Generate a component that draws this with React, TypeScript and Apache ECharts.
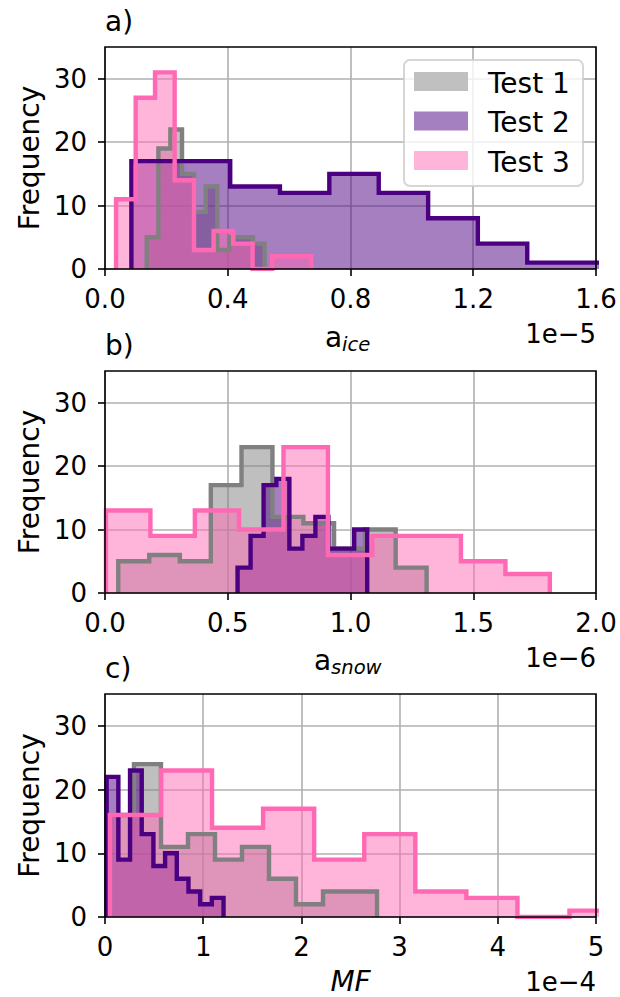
import React, { useEffect, useRef } from "react";
import * as echarts from "echarts";

const TEST_NAMES = ["Test 1", "Test 2", "Test 3"];
const EDGE_COLORS = ["#808080", "#4b0082", "#ff69b4"];
const FILL_COLORS = ["#c0c0c0", "#a580c1", "#ffb4da"];

// Panel a) a_ice, x in units of 1e-5
const iceEdges1 = [0.136, 0.174, 0.213, 0.251, 0.29, 0.328, 0.366, 0.405, 0.443, 0.482, 0.52];
const iceCounts1 = [5, 19, 22, 15, 9, 13, 3, 5, 5, 4];
const iceEdges2 = [0.086, 0.247, 0.408, 0.57, 0.731, 0.892, 1.053, 1.215, 1.376, 1.537, 1.698];
const iceCounts2 = [17, 17, 13, 12, 15, 12, 8, 4, 1, 1];
const iceEdges3 = [0.036, 0.1, 0.163, 0.227, 0.29, 0.354, 0.418, 0.481, 0.545, 0.608, 0.672];
const iceCounts3 = [11, 27, 31, 14, 3, 6, 4, 0, 2, 2];

// Panel b) a_snow, x in units of 1e-6
const snowEdges1 = [0.054, 0.18, 0.305, 0.431, 0.556, 0.682, 0.808, 0.933, 1.059, 1.184, 1.31];
const snowCounts1 = [5, 6, 5, 17, 23, 12, 11, 7, 10, 4];
const snowEdges2 = [0.54, 0.593, 0.646, 0.698, 0.751, 0.804, 0.857, 0.91, 0.962, 1.015, 1.068];
const snowCounts2 = [4, 9, 17, 18, 7, 9, 12, 7, 7, 10];
const snowEdges3 = [0.004, 0.185, 0.366, 0.546, 0.727, 0.908, 1.089, 1.27, 1.45, 1.631, 1.812];
const snowCounts3 = [13, 9, 13, 10, 23, 6, 9, 9, 5, 3];

// Panel c) MF, x in units of 1e-4
const mfEdges1 = [0.02, 0.295, 0.57, 0.845, 1.12, 1.395, 1.67, 1.945, 2.22, 2.495, 2.77];
const mfCounts1 = [16, 24, 11, 13, 9, 11, 6, 2, 4, 4];
const mfEdges2 = [0.017, 0.136, 0.255, 0.374, 0.493, 0.612, 0.731, 0.85, 0.969, 1.088, 1.207];
const mfCounts2 = [22, 9, 23, 13, 8, 10, 6, 4, 2, 3];
const mfEdges3 = [0.05, 0.57, 1.09, 1.61, 2.13, 2.64, 3.16, 3.68, 4.2, 4.73, 5.25];
const mfCounts3 = [16, 23, 14, 17, 9, 13, 4, 3, 0, 1];

const X_MAX = [1.6, 2.0, 5];
const X_INTERVAL = [0.4, 0.5, 1];
const X_DECIMALS = [1, 1, 0];
const Y_TICKS = [0, 10, 20, 30];
const PANEL_LETTERS = ["a)", "b)", "c)"];
const OFFSET_TEXTS = ["1e\u22125", "1e\u22126", "1e\u22124"];

const PANELS = [
  { edges: [iceEdges1, iceEdges2, iceEdges3], counts: [iceCounts1, iceCounts2, iceCounts3] },
  { edges: [snowEdges1, snowEdges2, snowEdges3], counts: [snowCounts1, snowCounts2, snowCounts3] },
  { edges: [mfEdges1, mfEdges2, mfEdges3], counts: [mfCounts1, mfCounts2, mfCounts3] },
];

const FONT = "DejaVu Sans";
const TICK_SIZE = 26;
const LABEL_SIZE = 28;
const SUB_SIZE = 19.6;
const LEFT = 105;
const WIDTH = 491;
const TOPS = [47, 371, 694];
const HEIGHTS = [222, 222, 223];

function stepOutline(edges: number[], counts: number[]) {
  const pts: number[][] = [[edges[0], 0]];
  for (let i = 0; i < counts.length; i++) {
    pts.push([edges[i], counts[i]]);
    pts.push([edges[i + 1], counts[i]]);
  }
  pts.push([edges[counts.length], 0]);
  return pts;
}

// y is the text baseline
function txt(text: string, x: number, baseline: number, opts: any = {}) {
  const fs = opts.fontSize || LABEL_SIZE;
  const off = 0.297 * fs;
  const rot = opts.rotation || 0;
  return {
    type: "text",
    x: rot ? x - off : x,
    y: rot ? baseline : baseline - off,
    z: 120,
    silent: true,
    rotation: rot,
    style: {
      text,
      fill: "#000",
      fontSize: fs,
      fontFamily: FONT,
      fontStyle: opts.fontStyle || "normal",
      align: opts.align || "left",
      textAlign: opts.align || "left",
      verticalAlign: "middle",
      textVerticalAlign: "middle",
    },
  };
}

export default function App() {
  const ref = useRef<HTMLDivElement>(null);

  useEffect(() => {
    if (!ref.current) return;
    const chart = echarts.init(ref.current, undefined, { renderer: "svg" });

    const grid = TOPS.map((t, i) => ({ left: LEFT, top: t, width: WIDTH, height: HEIGHTS[i], containLabel: false }));

    const xAxis = [0, 1, 2].map((i) => ({
      type: "value",
      gridIndex: i,
      min: 0,
      max: X_MAX[i],
      interval: X_INTERVAL[i],
      axisLine: { show: false },
      axisTick: { show: true, inside: false, length: 7, lineStyle: { color: "#000", width: 1.6 } },
      axisLabel: {
        show: true,
        margin: 17,
        fontSize: TICK_SIZE,
        fontFamily: FONT,
        color: "#000",
        showMinLabel: true,
        showMaxLabel: true,
        formatter: (v: number) => v.toFixed(X_DECIMALS[i]),
      },
      splitLine: { show: true, lineStyle: { color: "#b0b0b0", width: 1.6 } },
    }));

    const yAxis = [0, 1, 2].map((i) => ({
      type: "value",
      gridIndex: i,
      min: 0,
      max: 35,
      interval: 10,
      axisLine: { show: false },
      axisTick: { show: true, inside: false, length: 7, lineStyle: { color: "#000", width: 1.6 }, customValues: Y_TICKS },
      axisLabel: {
        show: true,
        margin: 18,
        fontSize: TICK_SIZE,
        fontFamily: FONT,
        color: "#000",
        customValues: Y_TICKS,
        formatter: (v: number) => (v > 30 ? "" : String(v)),
      },
      splitLine: { show: true, lineStyle: { color: "#b0b0b0", width: 1.6 } },
    }));

    const series: any[] = [];
    PANELS.forEach((p, pi) => {
      for (let k = 0; k < 3; k++) {
        series.push({
          type: "line",
          name: TEST_NAMES[k],
          xAxisIndex: pi,
          yAxisIndex: pi,
          data: stepOutline(p.edges[k], p.counts[k]),
          showSymbol: false,
          symbol: "none",
          clip: true,
          silent: true,
          lineStyle: { color: EDGE_COLORS[k], width: 4.4, join: "miter", cap: "butt" },
          itemStyle: { color: EDGE_COLORS[k] },
          areaStyle: { color: EDGE_COLORS[k], opacity: 0.5 },
        });
      }
    });

    const graphic: any[] = [];
    TOPS.forEach((t, i) => {
      const h = HEIGHTS[i];
      const bottom = t + h;
      graphic.push({
        type: "rect",
        z: 110,
        silent: true,
        shape: { x: LEFT, y: t, width: WIDTH, height: h },
        style: { fill: "none", stroke: "#000", lineWidth: 1.6 },
      });
      graphic.push(txt(PANEL_LETTERS[i], 105, t - 17.5));
      graphic.push(txt("Frequency", 37.5, t + h / 2, { rotation: Math.PI / 2, align: "center" }));
      graphic.push(txt(OFFSET_TEXTS[i], 596, bottom + 72.5, { align: "right", fontSize: TICK_SIZE }));
    });
    // x-axis labels
    graphic.push(txt("a", 325, TOPS[0] + HEIGHTS[0] + 77));
    graphic.push(txt("ice", 342, TOPS[0] + HEIGHTS[0] + 81.5, { fontSize: SUB_SIZE, fontStyle: "italic" }));
    graphic.push(txt("a", 314, TOPS[1] + HEIGHTS[1] + 76));
    graphic.push(txt("snow", 331, TOPS[1] + HEIGHTS[1] + 80, { fontSize: SUB_SIZE, fontStyle: "italic" }));
    graphic.push(txt("MF", 350.5, TOPS[2] + HEIGHTS[2] + 73, { align: "center", fontStyle: "italic" }));

    // legend
    graphic.push({
      type: "rect",
      z: 115,
      silent: true,
      shape: { x: 404, y: 60, width: 179, height: 126, r: 6 },
      style: { fill: "rgba(255,255,255,0.8)", stroke: "rgba(204,204,204,0.8)", lineWidth: 2 },
    });
    const rowCenters = [81.5, 121, 160.5];
    rowCenters.forEach((cy, k) => {
      graphic.push({
        type: "rect",
        z: 118,
        silent: true,
        shape: { x: 414, y: cy - 9.5, width: 54, height: 19 },
        style: { fill: FILL_COLORS[k] },
      });
      graphic.push(txt(TEST_NAMES[k], 488, cy + 10.2));
    });

    chart.setOption({
      animation: false,
      backgroundColor: "#ffffff",
      grid,
      xAxis,
      yAxis,
      series,
      graphic,
    });

    return () => chart.dispose();
  }, []);

  return (
    <div
      ref={ref}
      style={{ position: "absolute", left: 0, top: 0, width: 620, height: 997 }}
    />
  );
}
